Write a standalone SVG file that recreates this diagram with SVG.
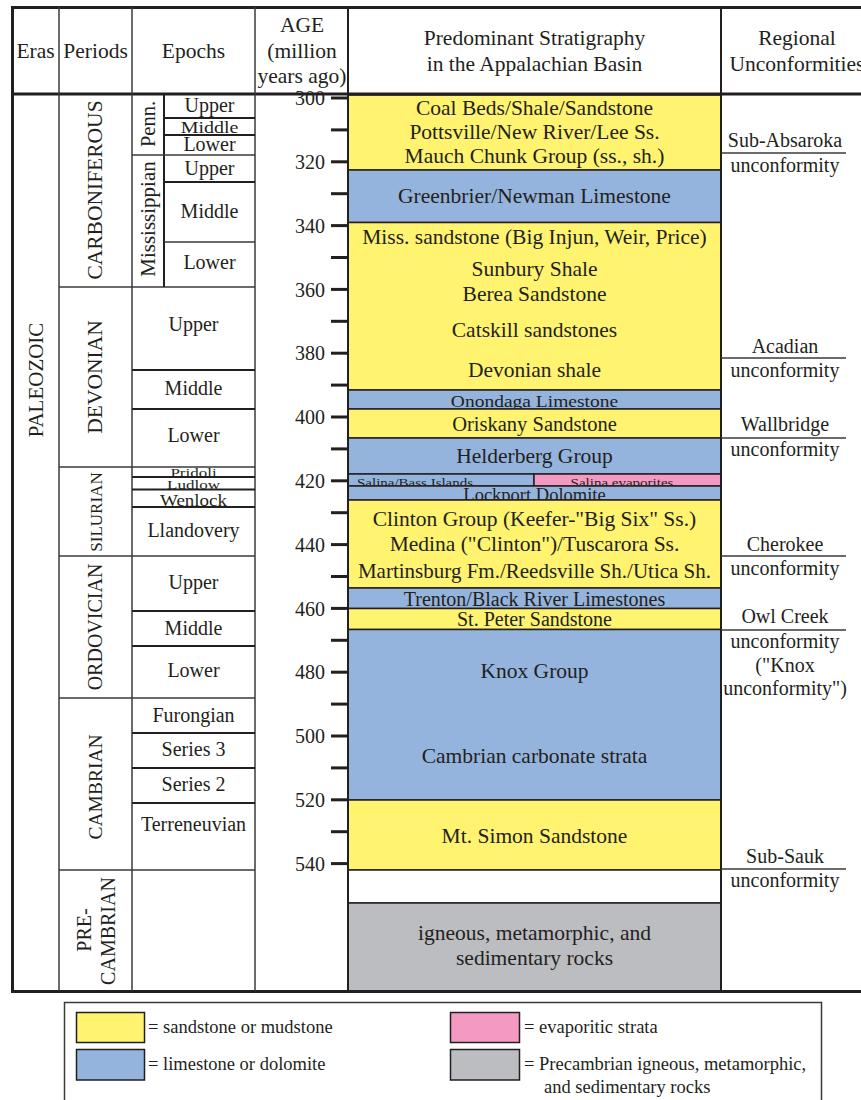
<svg xmlns="http://www.w3.org/2000/svg" width="861" height="1100" viewBox="0 0 861 1100">
<style>
text{font-family:"Liberation Serif","Times New Roman",serif;fill:#231f20}
.h{font-size:21.5px;text-anchor:middle}
.s{font-size:21.5px;text-anchor:middle}
.e{font-size:20px;text-anchor:middle}
.u{font-size:20px;text-anchor:middle}
.a{font-size:20px;text-anchor:end}
.p{font-size:21.5px;text-anchor:middle}
.lg{font-size:18.5px}
.thk{stroke:#231f20;stroke-width:3;fill:none}
.ln{stroke:#231f20;stroke-width:2;fill:none}
.tn{stroke:#3a3a3a;stroke-width:1.5;fill:none}
.y{fill:#fff36f;stroke:#231f20;stroke-width:1.5}
.b{fill:#95b4dd;stroke:#231f20;stroke-width:1.5}
.k{fill:#f49ac2;stroke:#231f20;stroke-width:1.5}
.g{fill:#bcbdc0;stroke:#231f20;stroke-width:1.5}
.w{fill:#ffffff;stroke:#231f20;stroke-width:1.5}
</style>
<rect width="861" height="1100" fill="#ffffff"/>

<g id="strata">
  <g id="layer-coal"><rect class="y" x="348" y="95" width="373" height="75"/>
    <text class="s" x="534.5" y="115">Coal Beds/Shale/Sandstone</text>
    <text class="s" x="534.5" y="139">Pottsville/New River/Lee Ss.</text>
    <text class="s" x="534.5" y="163">Mauch Chunk Group (ss., sh.)</text></g>
  <g id="layer-greenbrier"><rect class="b" x="348" y="170" width="373" height="52.5"/>
    <text class="s" x="534.5" y="203">Greenbrier/Newman Limestone</text></g>
  <g id="layer-miss-dev"><rect class="y" x="348" y="222.5" width="373" height="167.5"/>
    <text class="s" x="534.5" y="244">Miss. sandstone (Big Injun, Weir, Price)</text>
    <text class="s" x="534.5" y="276">Sunbury Shale</text>
    <text class="s" x="534.5" y="301">Berea Sandstone</text>
    <text class="s" x="534.5" y="337">Catskill sandstones</text>
    <text class="s" x="534.5" y="377">Devonian shale</text></g>
  <g id="layer-onondaga"><rect class="b" x="348" y="390" width="373" height="19"/>
    <text class="s" transform="translate(534.5,407) scale(1,0.9)" style="font-size:19.5px">Onondaga Limestone</text></g>
  <g id="layer-oriskany"><rect class="y" x="348" y="409" width="373" height="29"/>
    <text class="s" x="534.5" y="431" style="font-size:20.5px">Oriskany Sandstone</text></g>
  <g id="layer-helderberg"><rect class="b" x="348" y="438" width="373" height="36"/>
    <text class="s" x="534.5" y="463">Helderberg Group</text></g>
  <g id="layer-salina"><rect class="b" x="348" y="474" width="186" height="12"/>
    <rect class="k" x="534" y="474" width="187" height="12"/>
    <text transform="translate(357,486.5) scale(1,0.9)" style="font-size:15px">Salina/Bass Islands</text>
    <text transform="translate(622,486.5) scale(1,0.9)" style="font-size:15px;text-anchor:middle">Salina evaporites</text></g>
  <g id="layer-lockport"><rect class="b" x="348" y="486" width="373" height="14"/>
    <text class="s" x="534.5" y="500.5" style="font-size:18.5px">Lockport Dolomite</text></g>
  <g id="layer-clinton"><rect class="y" x="348" y="500" width="373" height="88"/>
    <text class="s" x="534.5" y="526">Clinton Group (Keefer-"Big Six" Ss.)</text>
    <text class="s" x="534.5" y="551">Medina ("Clinton")/Tuscarora Ss.</text>
    <text class="s" x="534.5" y="578" style="font-size:21px">Martinsburg Fm./Reedsville Sh./Utica Sh.</text></g>
  <g id="layer-trenton"><rect class="b" x="348" y="588" width="373" height="20.5"/>
    <text class="s" x="534.5" y="606" style="font-size:20px">Trenton/Black River Limestones</text></g>
  <g id="layer-stpeter"><rect class="y" x="348" y="608.5" width="373" height="21"/>
    <text class="s" x="534.5" y="625.5" style="font-size:20px">St. Peter Sandstone</text></g>
  <g id="layer-knox"><rect class="b" x="348" y="629.5" width="373" height="170.5"/>
    <text class="s" x="534.5" y="678">Knox Group</text>
    <text class="s" x="534.5" y="763">Cambrian carbonate strata</text></g>
  <g id="layer-mtsimon"><rect class="y" x="348" y="800" width="373" height="70"/>
    <text class="s" x="534.5" y="843">Mt. Simon Sandstone</text></g>
  <g id="layer-gap"><rect class="w" x="348" y="870" width="373" height="33"/></g>
  <g id="layer-precambrian"><rect class="g" x="348" y="903" width="373" height="88"/>
    <text class="s" x="534.5" y="940">igneous, metamorphic, and</text>
    <text class="s" x="534.5" y="965">sedimentary rocks</text></g>
</g>

<g id="frame">
  <line class="thk" x1="12" y1="7.5" x2="861" y2="7.5"/>
  <line class="thk" x1="12" y1="94" x2="861" y2="94"/>
  <line class="thk" x1="12" y1="991.5" x2="861" y2="991.5"/>
  <line class="thk" x1="12.5" y1="6" x2="12.5" y2="993"/>
  <line class="tn" x1="59" y1="7" x2="59" y2="991"/>
  <line class="tn" x1="132" y1="7" x2="132" y2="991"/>
  <line class="tn" x1="255" y1="7" x2="255" y2="991"/>
  <line class="ln" x1="348" y1="7" x2="348" y2="991"/>
  <line class="ln" x1="721" y1="7" x2="721" y2="991"/>
</g>

<g id="header">
  <text class="h" x="35.5" y="58">Eras</text>
  <text class="h" x="95.5" y="58">Periods</text>
  <text class="h" x="193.5" y="58">Epochs</text>
  <text class="h" x="302" y="32">AGE</text>
  <text class="h" x="302" y="58">(million</text>
  <text class="h" x="302" y="83">years ago)</text>
  <text class="h" x="534.5" y="45">Predominant Stratigraphy</text>
  <text class="h" x="534.5" y="71">in the Appalachian Basin</text>
  <text class="h" x="797" y="45">Regional</text>
  <text class="h" x="797" y="71">Unconformities</text>
</g>

<g id="eras">
  <text class="p" transform="translate(43,380) rotate(-90)" style="font-size:21px">PALEOZOIC</text>
</g>

<g id="periods">
  <line class="tn" x1="59" y1="287" x2="255" y2="287"/>
  <line class="tn" x1="59" y1="467" x2="255" y2="467"/>
  <line class="tn" x1="59" y1="556" x2="255" y2="556"/>
  <line class="tn" x1="59" y1="698" x2="255" y2="698"/>
  <line class="tn" x1="59" y1="870" x2="255" y2="870"/>
  <text class="p" transform="translate(102,190) rotate(-90)">CARBONIFEROUS</text>
  <text class="p" transform="translate(102,377) rotate(-90)">DEVONIAN</text>
  <text class="p" transform="translate(102,512) rotate(-90)" style="font-size:17px">SILURIAN</text>
  <text class="p" transform="translate(102,627) rotate(-90)" style="font-size:20px">ORDOVICIAN</text>
  <text class="p" transform="translate(102,787) rotate(-90)" style="font-size:19.5px">CAMBRIAN</text>
  <text class="p" transform="translate(91,930) rotate(-90)" style="font-size:20px">PRE-</text>
  <text class="p" transform="translate(115,931) rotate(-90)" style="font-size:20px">CAMBRIAN</text>
</g>

<g id="epochs">
  <line class="ln" x1="164" y1="94" x2="164" y2="287"/>
  <line class="tn" x1="132" y1="155" x2="255" y2="155"/>
  <line class="ln" x1="164" y1="118" x2="255" y2="118"/>
  <line class="ln" x1="164" y1="135" x2="255" y2="135"/>
  <line class="ln" x1="164" y1="182" x2="255" y2="182"/>
  <line class="tn" x1="164" y1="242" x2="255" y2="242"/>
  <line class="ln" x1="132" y1="370" x2="255" y2="370"/>
  <line class="ln" x1="132" y1="409" x2="255" y2="409"/>
  <line class="ln" x1="132" y1="477" x2="255" y2="477"/>
  <line class="ln" x1="132" y1="489.5" x2="255" y2="489.5"/>
  <line class="ln" x1="132" y1="507" x2="255" y2="507"/>
  <line class="ln" x1="132" y1="611" x2="255" y2="611"/>
  <line class="ln" x1="132" y1="646" x2="255" y2="646"/>
  <line class="ln" x1="132" y1="733" x2="255" y2="733"/>
  <line class="ln" x1="132" y1="768" x2="255" y2="768"/>
  <line class="ln" x1="132" y1="803" x2="255" y2="803"/>
  <text class="e" transform="translate(155,124) rotate(-90)" style="font-size:20.5px">Penn.</text>
  <text class="e" transform="translate(155,219) rotate(-90)" style="font-size:21px">Mississippian</text>
  <text class="e" x="209.5" y="112">Upper</text>
  <text class="e" transform="translate(209.5,133) scale(1,0.85)">Middle</text>
  <text class="e" x="209.5" y="151">Lower</text>
  <text class="e" x="209.5" y="175">Upper</text>
  <text class="e" x="209.5" y="218">Middle</text>
  <text class="e" x="209.5" y="269">Lower</text>
  <text class="e" x="193.5" y="331">Upper</text>
  <text class="e" x="193.5" y="395">Middle</text>
  <text class="e" x="193.5" y="442">Lower</text>
  <text class="e" transform="translate(193.5,476.5) scale(1,0.75)" style="font-size:17px">Pridoli</text>
  <text class="e" transform="translate(193.5,489) scale(1,0.75)" style="font-size:17px">Ludlow</text>
  <text class="e" transform="translate(193.5,505.5) scale(1,0.85)" style="font-size:19px">Wenlock</text>
  <text class="e" x="193.5" y="537">Llandovery</text>
  <text class="e" x="193.5" y="589">Upper</text>
  <text class="e" x="193.5" y="635">Middle</text>
  <text class="e" x="193.5" y="677">Lower</text>
  <text class="e" x="193.5" y="722">Furongian</text>
  <text class="e" x="193.5" y="756">Series 3</text>
  <text class="e" x="193.5" y="791">Series 2</text>
  <text class="e" x="193.5" y="831">Terreneuvian</text>
</g>

<g id="age-axis">
  <g class="thk">
    <line x1="331" y1="98" x2="348" y2="98"/>
    <line x1="331" y1="129.9" x2="348" y2="129.9"/>
    <line x1="331" y1="161.8" x2="348" y2="161.8"/>
    <line x1="331" y1="193.7" x2="348" y2="193.7"/>
    <line x1="331" y1="225.6" x2="348" y2="225.6"/>
    <line x1="331" y1="257.5" x2="348" y2="257.5"/>
    <line x1="331" y1="289.4" x2="348" y2="289.4"/>
    <line x1="331" y1="321.3" x2="348" y2="321.3"/>
    <line x1="331" y1="353.2" x2="348" y2="353.2"/>
    <line x1="331" y1="385.1" x2="348" y2="385.1"/>
    <line x1="331" y1="417" x2="348" y2="417"/>
    <line x1="331" y1="448.9" x2="348" y2="448.9"/>
    <line x1="331" y1="480.8" x2="348" y2="480.8"/>
    <line x1="331" y1="512.7" x2="348" y2="512.7"/>
    <line x1="331" y1="544.6" x2="348" y2="544.6"/>
    <line x1="331" y1="576.5" x2="348" y2="576.5"/>
    <line x1="331" y1="608.4" x2="348" y2="608.4"/>
    <line x1="331" y1="640.3" x2="348" y2="640.3"/>
    <line x1="331" y1="672.2" x2="348" y2="672.2"/>
    <line x1="331" y1="704.1" x2="348" y2="704.1"/>
    <line x1="331" y1="736" x2="348" y2="736"/>
    <line x1="331" y1="767.9" x2="348" y2="767.9"/>
    <line x1="331" y1="799.8" x2="348" y2="799.8"/>
    <line x1="331" y1="831.7" x2="348" y2="831.7"/>
    <line x1="331" y1="863.6" x2="348" y2="863.6"/>
  </g>
  <text class="a" x="325" y="105">300</text>
  <text class="a" x="325" y="169">320</text>
  <text class="a" x="325" y="232.5">340</text>
  <text class="a" x="325" y="296.5">360</text>
  <text class="a" x="325" y="360">380</text>
  <text class="a" x="325" y="424">400</text>
  <text class="a" x="325" y="488">420</text>
  <text class="a" x="325" y="551.5">440</text>
  <text class="a" x="325" y="615.5">460</text>
  <text class="a" x="325" y="679">480</text>
  <text class="a" x="325" y="743">500</text>
  <text class="a" x="325" y="807">520</text>
  <text class="a" x="325" y="870.5">540</text>
</g>

<g id="unconformities">
  <g class="tn">
    <line x1="721" y1="153" x2="846" y2="153"/>
    <line x1="721" y1="358" x2="846" y2="358"/>
    <line x1="721" y1="438" x2="846" y2="438"/>
    <line x1="721" y1="556" x2="846" y2="556"/>
    <line x1="721" y1="630" x2="846" y2="630"/>
    <line x1="721" y1="869" x2="846" y2="869"/>
  </g>
  <text class="u" x="785" y="147">Sub-Absaroka</text>
  <text class="u" x="785" y="172">unconformity</text>
  <text class="u" x="785" y="353">Acadian</text>
  <text class="u" x="785" y="377">unconformity</text>
  <text class="u" x="785" y="431">Wallbridge</text>
  <text class="u" x="785" y="456">unconformity</text>
  <text class="u" x="785" y="551">Cherokee</text>
  <text class="u" x="785" y="575">unconformity</text>
  <text class="u" x="785" y="623">Owl Creek</text>
  <text class="u" x="785" y="648">unconformity</text>
  <text class="u" x="785" y="672">("Knox</text>
  <text class="u" x="785" y="695">unconformity")</text>
  <text class="u" x="785" y="863">Sub-Sauk</text>
  <text class="u" x="785" y="887">unconformity</text>
</g>

<g id="legend">
  <path d="M64.5,1101 V1002.5 H821.5 V1101" stroke="#3a3a3a" stroke-width="1.5" fill="none"/>
  <rect class="y" x="76.5" y="1012.5" width="68" height="30"/>
  <rect class="b" x="76.5" y="1049.5" width="68" height="30.5"/>
  <rect class="k" x="450.5" y="1012.5" width="69" height="30"/>
  <rect class="g" x="450.5" y="1049.5" width="69" height="30.5"/>
  <text class="lg" x="148" y="1033">= sandstone or mudstone</text>
  <text class="lg" x="148" y="1070">= limestone or dolomite</text>
  <text class="lg" x="524" y="1033">= evaporitic strata</text>
  <text class="lg" x="524" y="1070">= Precambrian igneous, metamorphic,</text>
  <text class="lg" x="544" y="1093">and sedimentary rocks</text>
</g>
</svg>
